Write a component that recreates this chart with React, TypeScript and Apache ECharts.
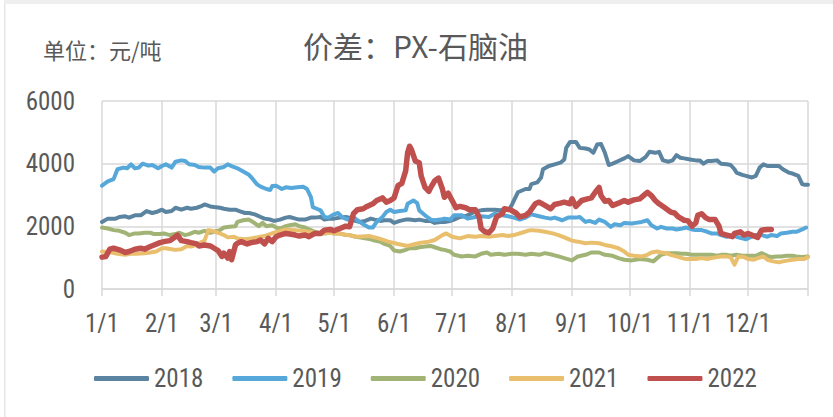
import React, { useEffect, useRef } from "react";
import * as echarts from "echarts";

// day-of-year positions of month starts and their labels
const monthStartDays = [0, 31, 59, 90, 120, 151, 181, 212, 243, 273, 304, 334];
const yearEndDay = 365;
const xLabels = ["1/1", "2/1", "3/1", "4/1", "5/1", "6/1", "7/1", "8/1", "9/1", "10/1", "11/1", "12/1"];
const yTicks = [0, 2000, 4000, 6000];
const seriesNames = ["2018", "2019", "2020", "2021", "2022"];

// [day of year, 元/吨]
const s2018 = [
  [0, 2141], [3, 2246], [7, 2246], [9, 2299], [12, 2320], [14, 2278], [17, 2351], [20, 2351], [23, 2488], [26, 2425], [28, 2456], [31, 2530], [33, 2456], [36, 2488], [38, 2593], [41, 2530], [44, 2593], [46, 2561], [49, 2593], [51, 2635], [53, 2698], [56, 2635], [58, 2614], [61, 2593], [63, 2561], [66, 2530], [69, 2530], [71, 2488], [74, 2425], [76, 2425], [79, 2383], [82, 2299], [84, 2246], [87, 2215], [89, 2173],
  [92, 2215], [95, 2278], [97, 2299], [100, 2246], [102, 2215], [105, 2215], [108, 2278], [110, 2278], [113, 2299], [115, 2215], [118, 2246], [120, 2246], [123, 2278], [126, 2299], [128, 2278], [131, 2173], [133, 2141], [136, 2173], [139, 2246], [141, 2215], [144, 2173], [146, 2194], [149, 2194], [151, 2110], [154, 2173], [157, 2215], [159, 2215], [162, 2194], [164, 2215], [167, 2173], [170, 2173], [172, 2110], [175, 2141], [177, 2141], [180, 2173], [182, 2215],
  [185, 2300], [188, 2330], [190, 2380], [193, 2480], [196, 2510], [199, 2530], [203, 2530], [206, 2510], [210, 2530], [211, 2590], [212, 2700], [215, 3087], [219, 3191], [221, 3191], [222, 3349], [225, 3401], [227, 3559], [228, 3822], [231, 3926], [234, 3979], [237, 4031], [239, 4136], [240, 4504], [242, 4693], [245, 4693], [247, 4504], [250, 4483], [252, 4451], [254, 4346], [256, 4609], [258, 4630], [260, 4346], [262, 3958], [264, 4000], [267, 4084], [270, 4168], [272, 4241], [275, 4105],
  [278, 4084], [281, 4210], [283, 4378], [286, 4346], [288, 4378], [290, 4105], [293, 4063], [295, 4105], [297, 4273], [299, 4189], [301, 4168], [304, 4136], [307, 4105], [309, 4105], [311, 4000], [313, 4084], [315, 4084], [318, 4105], [320, 4000], [323, 3979], [325, 3958], [327, 3822], [328, 3716], [331, 3643], [333, 3611], [336, 3559], [338, 3611], [340, 3874], [342, 3979], [344, 3926], [347, 3926], [350, 3926], [352, 3822], [355, 3716], [357, 3685], [360, 3611], [362, 3349], [363, 3328], [365, 3328],
];

const s2019 = [
  [0, 3296], [3, 3433], [6, 3506], [8, 3822], [11, 3874], [13, 3853], [15, 3979], [17, 3853], [19, 3874], [21, 4000], [24, 3937], [26, 3958], [29, 3853], [31, 3926], [33, 3979], [36, 3874], [38, 4063], [41, 4105], [43, 4084], [45, 3979], [48, 3958], [50, 3895], [53, 3874], [56, 3874], [58, 3748], [60, 3853], [63, 3895], [65, 3979], [68, 3895], [70, 3853], [73, 3748], [76, 3643], [78, 3506], [80, 3349], [82, 3265], [85, 3191], [87, 3160], [88, 3286],
  [90, 3296], [93, 3191], [95, 3244], [98, 3223], [101, 3244], [104, 3265], [106, 3191], [108, 2929], [109, 2614], [111, 2561], [113, 2509], [115, 2299], [117, 2278], [120, 2383], [122, 2425], [124, 2299], [127, 2215], [130, 2299], [132, 2194], [135, 2068], [138, 1963], [140, 1963], [142, 2141], [145, 2299], [147, 2456], [149, 2530], [151, 2456], [154, 2488], [157, 2509], [158, 2719], [161, 2824], [163, 2740], [164, 2509], [167, 2351], [170, 2215], [172, 2194], [175, 2215], [177, 2246], [180, 2215], [182, 2351],
  [186, 2351], [189, 2246], [193, 2299], [196, 2320], [200, 2299], [203, 2404], [207, 2351], [210, 2320], [213, 2278], [216, 2215], [219, 2278], [222, 2383], [226, 2320], [229, 2278], [232, 2246], [234, 2278], [238, 2194], [241, 2278], [245, 2278], [247, 2299], [250, 2141], [252, 2173], [255, 2110], [257, 2215], [260, 2141], [263, 1984], [265, 2068], [268, 2036], [270, 2110], [274, 2089],
  [276, 2110], [279, 2141], [282, 2194], [284, 2036], [287, 1931], [289, 1984], [292, 1931], [295, 1931], [297, 1900], [300, 1931], [302, 1963], [305, 1900], [307, 1879], [310, 1879], [313, 1826], [315, 1774], [318, 1774], [320, 1721], [323, 1669], [326, 1721], [328, 1669], [331, 1616], [333, 1585], [335, 1648], [338, 1721], [341, 1721], [344, 1669], [346, 1721], [349, 1690], [351, 1774], [354, 1795], [357, 1826], [359, 1826], [362, 1900], [364, 1963],
];

const s2020 = [
  [0, 1963], [3, 1931], [6, 1879], [9, 1858], [12, 1795], [14, 1721], [17, 1774], [19, 1774], [22, 1795], [25, 1795], [27, 1753], [30, 1753], [32, 1774], [35, 1721], [38, 1753], [40, 1795], [43, 1721], [45, 1753], [48, 1826], [50, 1795], [53, 1858], [56, 1795], [58, 1826], [61, 1879], [63, 1963], [66, 1984], [69, 2005], [70, 2141], [73, 2194], [76, 2215], [78, 2141], [81, 2005], [83, 2110], [85, 2005], [88, 2036], [90, 1963],
  [92, 1931], [95, 2005], [97, 2036], [100, 2068], [102, 2005], [105, 1963], [108, 1879], [110, 1826], [113, 1774], [115, 1774], [118, 1795], [120, 1774], [123, 1774], [126, 1721], [128, 1721], [131, 1669], [133, 1648], [136, 1616], [139, 1585], [141, 1543], [144, 1511], [146, 1438], [149, 1375], [151, 1228], [154, 1196], [157, 1249], [159, 1301], [162, 1301], [164, 1333], [167, 1354], [170, 1375], [172, 1333], [175, 1270], [177, 1249], [180, 1196], [182, 1091],
  [186, 1039], [189, 1060], [193, 1039], [196, 1123], [199, 1165], [201, 1091], [205, 1123], [208, 1091], [212, 1123], [215, 1123], [219, 1091], [222, 1123], [226, 1091], [229, 1144], [233, 1091], [236, 1039], [239, 986], [243, 913], [246, 1039], [250, 1091], [253, 1165], [257, 1165], [260, 1091], [264, 1060], [267, 986], [270, 934], [274, 913], [278, 955],
  [282, 934], [285, 881], [287, 986], [289, 1091], [292, 1144], [295, 1144], [297, 1144], [300, 1123], [302, 1123], [305, 1091], [307, 1091], [310, 1091], [313, 1091], [315, 1091], [318, 1060], [320, 1091], [323, 1091], [325, 1060], [328, 1091], [331, 1060], [333, 1060], [336, 1060], [338, 1060], [341, 1144], [344, 1060], [346, 1018], [349, 1039], [351, 1039], [354, 1060], [357, 1060], [359, 1039], [362, 1018], [365, 1039],
];

const s2021 = [
  [0, 1196], [5, 1165], [8, 1123], [12, 1091], [15, 1123], [18, 1123], [22, 1144], [25, 1165], [28, 1196], [31, 1301], [33, 1301], [36, 1270], [38, 1249], [41, 1270], [44, 1375], [46, 1354], [49, 1406], [51, 1480], [53, 1543], [55, 1879], [57, 1858], [60, 1795], [63, 1721], [65, 1648], [68, 1669], [70, 1616], [74, 1585], [77, 1616], [80, 1648], [84, 1690],
  [89, 1800], [95, 1900], [100, 1879], [107, 1826], [112, 1774], [117, 1795], [122, 1774], [127, 1721], [132, 1669], [138, 1690], [143, 1616], [148, 1511], [153, 1438], [158, 1375], [162, 1438], [165, 1480], [169, 1511], [172, 1564], [176, 1721], [178, 1774], [181, 1669], [185, 1616],
  [189, 1690], [193, 1669], [196, 1690], [200, 1669], [203, 1690], [207, 1721], [210, 1690], [213, 1721], [217, 1795], [220, 1858], [222, 1879], [226, 1858], [229, 1826], [233, 1774], [236, 1721], [239, 1648], [243, 1543], [246, 1511], [250, 1459], [253, 1480], [257, 1459], [260, 1406], [264, 1354], [267, 1301], [270, 1196], [272, 1091], [275, 1060],
  [279, 1039], [282, 1091], [284, 1165], [287, 1196], [289, 1165], [292, 1144], [294, 1091], [297, 1039], [300, 986], [302, 955], [305, 955], [307, 955], [310, 986], [313, 955], [315, 986], [318, 1018], [320, 1039], [323, 1039], [325, 1018], [327, 777], [329, 1039], [332, 1018], [334, 955], [337, 934], [339, 986], [342, 1039], [344, 934], [347, 881], [350, 850], [352, 881], [355, 913], [357, 934], [360, 955], [363, 955], [365, 1018],
];

const s2022 = [
  [0, 1018], [2, 1039], [4, 1270], [6, 1301], [9, 1249], [12, 1165], [14, 1196], [17, 1270], [20, 1301], [22, 1270], [25, 1354], [27, 1406], [30, 1480], [32, 1511], [35, 1543], [38, 1669], [39, 1721], [41, 1543], [44, 1511], [46, 1480], [49, 1438], [50, 1375], [53, 1406], [56, 1375], [58, 1301], [60, 1228], [62, 1039], [63, 1144], [65, 986], [66, 1196], [67, 934], [69, 1406], [70, 1459], [72, 1511], [75, 1438], [77, 1480], [80, 1511], [82, 1564], [84, 1438], [86, 1616], [88, 1511],
  [90, 1669], [92, 1721], [95, 1774], [97, 1753], [100, 1721], [102, 1690], [105, 1721], [107, 1669], [110, 1774], [113, 1774], [115, 1879], [118, 1900], [120, 1858], [123, 1931], [126, 2005], [128, 1984], [130, 2404], [132, 2530], [135, 2561], [137, 2635], [140, 2719], [142, 2824], [145, 2908], [147, 2772], [149, 2824], [151, 2908], [153, 3296], [155, 3370], [157, 3769], [158, 4346], [159, 4556], [160, 4451], [162, 4084], [164, 4031], [165, 3611], [167, 3244], [169, 3118], [170, 3244], [172, 3454], [174, 3538], [176, 3191], [177, 2929], [179, 3055], [181, 2824], [183, 2593], [185, 2635],
  [188, 2593], [190, 2530], [193, 2530], [195, 2299], [196, 1931], [198, 1826], [200, 1795], [202, 1931], [204, 2299], [207, 2404], [208, 2561], [211, 2530], [214, 2425], [216, 2299], [219, 2351], [221, 2456], [224, 2719], [226, 2772], [229, 2666], [232, 2561], [234, 2698], [237, 2740], [239, 2772], [242, 2719], [243, 2877], [245, 2635], [248, 2824], [251, 2877], [253, 2908], [255, 3087], [257, 3244], [258, 2982], [260, 2803], [262, 2824], [264, 2666], [267, 2740], [270, 2824], [272, 2772], [275, 2845],
  [278, 2877], [281, 3034], [282, 3087], [284, 2982], [286, 2824], [288, 2719], [291, 2593], [294, 2456], [296, 2425], [298, 2299], [301, 2194], [303, 2173], [305, 2005], [307, 2110], [308, 2351], [310, 2404], [312, 2278], [314, 2215], [317, 2215], [319, 2005], [320, 1774], [323, 1721], [326, 1669], [327, 1774], [330, 1826], [332, 1721], [334, 1774], [336, 1721], [339, 1648], [341, 1879], [344, 1900], [346, 1900],
];

const seriesData = [s2018, s2019, s2020, s2021, s2022];
const seriesColors = ["#5B84A0", "#56A8DA", "#A1B375", "#E9BF6D", "#C0504D"];
const seriesWidths = [4, 4, 4, 4, 5.5];

const LATIN = '"Liberation Sans Narrow", "Roboto Condensed", Roboto, sans-serif';
const CJK = '"Noto Sans CJK SC", "Noto Sans", sans-serif';
const TEXT = "#595959";
const GRID = "#d9d9d9";

export default function App() {
  const ref = useRef<HTMLDivElement>(null);
  useEffect(() => {
    document.body.style.margin = "0";
    const chart = echarts.init(ref.current!, null, { renderer: "svg" });
    chart.setOption({
      animation: false,
      backgroundColor: "#ffffff",
      title: [
        {
          text: "价差：PX-石脑油",
          left: 303,
          top: 30,
          padding: 0,
          textStyle: { fontFamily: CJK, fontSize: 30, fontWeight: "normal", color: TEXT },
        },
        {
          text: "单位：元/吨",
          left: 43,
          top: 38,
          padding: 0,
          textStyle: { fontFamily: CJK, fontSize: 22, fontWeight: "normal", color: TEXT },
        },
      ],
      graphic: [
        { type: "rect", shape: { x: 4, y: 0, width: 829, height: 4 }, style: { fill: "#efefef" }, silent: true },
        { type: "rect", shape: { x: 4, y: 4, width: 1.5, height: 413 }, style: { fill: "#e6e6e6" }, silent: true },
      ],
      legend: {
        data: seriesNames,
        left: 94,
        top: 366,
        padding: 0,
        icon: "roundRect",
        itemWidth: 55,
        itemHeight: 5,
        itemGap: 29,
        textStyle: { fontFamily: LATIN, fontSize: 25, color: TEXT },
      },
      grid: { left: 102, right: 25, top: 101, bottom: 128, containLabel: false },
      xAxis: {
        type: "value",
        min: 0,
        max: yearEndDay,
        axisLine: { show: true, lineStyle: { color: GRID, width: 1.5 } },
        axisTick: {
          show: true,
          length: 7,
          customValues: [...monthStartDays, yearEndDay],
          lineStyle: { color: GRID, width: 1.5 },
        },
        axisLabel: {
          customValues: monthStartDays,
          margin: 22,
          fontFamily: LATIN,
          fontSize: 25,
          color: TEXT,
          formatter: (v: number) => {
            const i = monthStartDays.indexOf(Math.round(v));
            return i >= 0 ? xLabels[i] : "";
          },
        },
        splitLine: { show: true, lineStyle: { color: GRID, width: 1.5 } },
      },
      yAxis: {
        type: "value",
        min: yTicks[0],
        max: yTicks[yTicks.length - 1],
        interval: 2000,
        axisLine: { show: false },
        axisTick: { show: false },
        axisLabel: {
          margin: 27,
          fontFamily: LATIN,
          fontSize: 25,
          color: TEXT,
          formatter: (v: number) => String(v),
        },
        splitLine: { show: true, lineStyle: { color: GRID, width: 1.5 } },
      },
      series: seriesNames.map((name, i) => ({
        name,
        type: "line",
        data: seriesData[i],
        showSymbol: false,
        symbol: "none",
        smooth: false,
        color: seriesColors[i],
        lineStyle: { color: seriesColors[i], width: seriesWidths[i], cap: "round", join: "round" },
        emphasis: { disabled: true },
      })),
    });
    return () => chart.dispose();
  }, []);
  return <div ref={ref} style={{ width: 833, height: 417 }} />;
}
